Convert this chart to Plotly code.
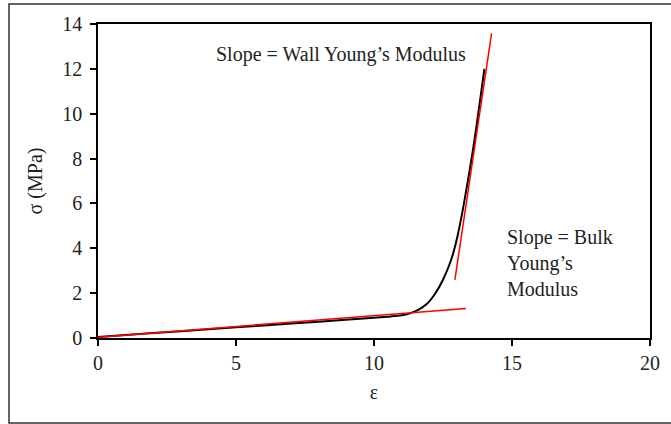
import plotly.graph_objects as go

# Measured stress-strain curve
strain = [0, 2, 4, 6, 8, 10, 10.5, 11, 11.3, 11.6, 11.9, 12.2, 12.5, 12.8, 13.0, 13.2, 13.4, 13.6, 13.8, 14.0]
stress = [0.05, 0.22, 0.39, 0.56, 0.73, 0.90, 0.95, 1.01, 1.10, 1.25, 1.50, 1.95, 2.60, 3.50, 4.40, 5.60, 7.00, 8.50, 10.20, 12.00]

# Tangent lines
bulk_x = [0, 13.33]
bulk_y = [0.03, 1.32]
wall_x = [12.93, 14.26]
wall_y = [2.59, 13.58]

x_ticks = [0, 5, 10, 15, 20]
y_ticks = [0, 2, 4, 6, 8, 10, 12, 14]

FONT = "Liberation Serif"
FS = 20

fig = go.Figure()
fig.add_trace(go.Scatter(x=strain, y=stress, mode="lines",
                         line=dict(color="black", width=2, shape="spline", smoothing=0.6),
                         showlegend=False, hoverinfo="skip"))
fig.add_trace(go.Scatter(x=bulk_x, y=bulk_y, mode="lines",
                         line=dict(color="#ff0000", width=1.5), showlegend=False))
fig.add_trace(go.Scatter(x=wall_x, y=wall_y, mode="lines",
                         line=dict(color="#ff0000", width=1.5), showlegend=False))

axis_common = dict(showgrid=False, zeroline=False, showline=True, linecolor="black",
                   linewidth=1.5, mirror=True, ticks="outside", ticklen=6, tickwidth=1.5,
                   tickcolor="black", tickfont=dict(family=FONT, size=FS, color="#222"))

fig.update_xaxes(range=[0, 20], tickvals=x_ticks,
                 title=dict(text="ε", font=dict(family=FONT, size=FS, color="#222"), standoff=12),
                 **axis_common)
fig.update_yaxes(range=[0, 14], tickvals=y_ticks, ticklabelstandoff=4,
                 title=dict(text="σ (MPa)", font=dict(family=FONT, size=FS, color="#222"), standoff=14),
                 **axis_common)

fig.add_annotation(x=4.2, y=12.65, xref="x", yref="y", xanchor="left", yanchor="middle",
                   text="Slope = Wall Young’s Modulus", showarrow=False,
                   font=dict(family=FONT, size=FS, color="#222"))
fig.add_annotation(x=14.75, y=3.34, xref="x", yref="y", xanchor="left", yanchor="middle",
                   align="left", text="Slope = Bulk<br>Young’s<br>Modulus", showarrow=False,
                   font=dict(family=FONT, size=FS, color="#222"))

# outer chart border
fig.add_shape(type="rect", xref="paper", yref="paper",
              x0=(9 - 98) / 552, x1=1.06, y0=(338 - 423) / 314, y1=(338 - 4) / 314,
              line=dict(color="#333", width=1.5), layer="below")

fig.update_layout(width=671, height=424, margin=dict(l=98, r=21, t=24, b=86),
                  paper_bgcolor="white", plot_bgcolor="white",
                  font=dict(family=FONT, size=FS, color="#222"))

fig.write_html("out.html")
